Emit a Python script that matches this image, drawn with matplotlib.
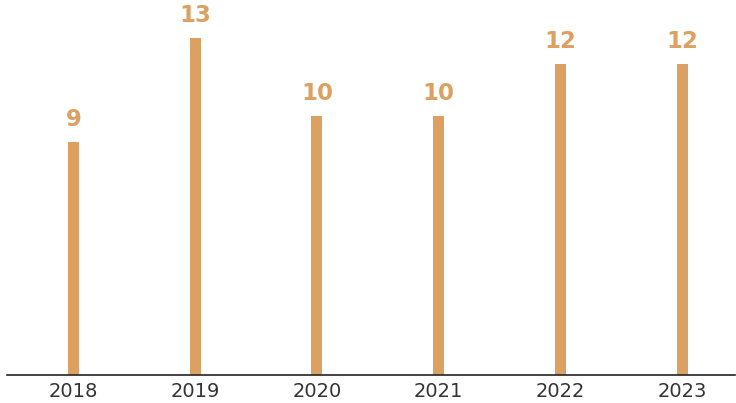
import matplotlib
matplotlib.use("Agg")
import matplotlib.pyplot as plt

years = ["2018", "2019", "2020", "2021", "2022", "2023"]
counts = [9, 13, 10, 10, 12, 12]

bar_color = "#DCA060"

fig = plt.figure(figsize=(7.36, 4.03), dpi=100)
ax = fig.add_axes([7 / 736, 28 / 403, 728 / 736, 375 / 403])

x = list(range(len(years)))
ax.bar(x, counts, width=0.09, color=bar_color)

for xi, v in zip(x, counts):
    ax.text(xi, v + 0.42, str(v), ha="center", va="bottom",
            fontsize=16.5, fontweight="bold", color=bar_color)

ax.set_xlim(-0.546, 5.435)
ax.set_ylim(0, 14.48)
ax.set_xticks(x)
ax.set_xticklabels(years, fontsize=14, color="#333333")
ax.tick_params(axis="x", length=0, pad=5)
ax.set_yticks([])

for side in ["top", "right", "left"]:
    ax.spines[side].set_visible(False)
ax.spines["bottom"].set_color("#222222")
ax.spines["bottom"].set_linewidth(1.2)

fig.savefig("out.png", dpi=100)
